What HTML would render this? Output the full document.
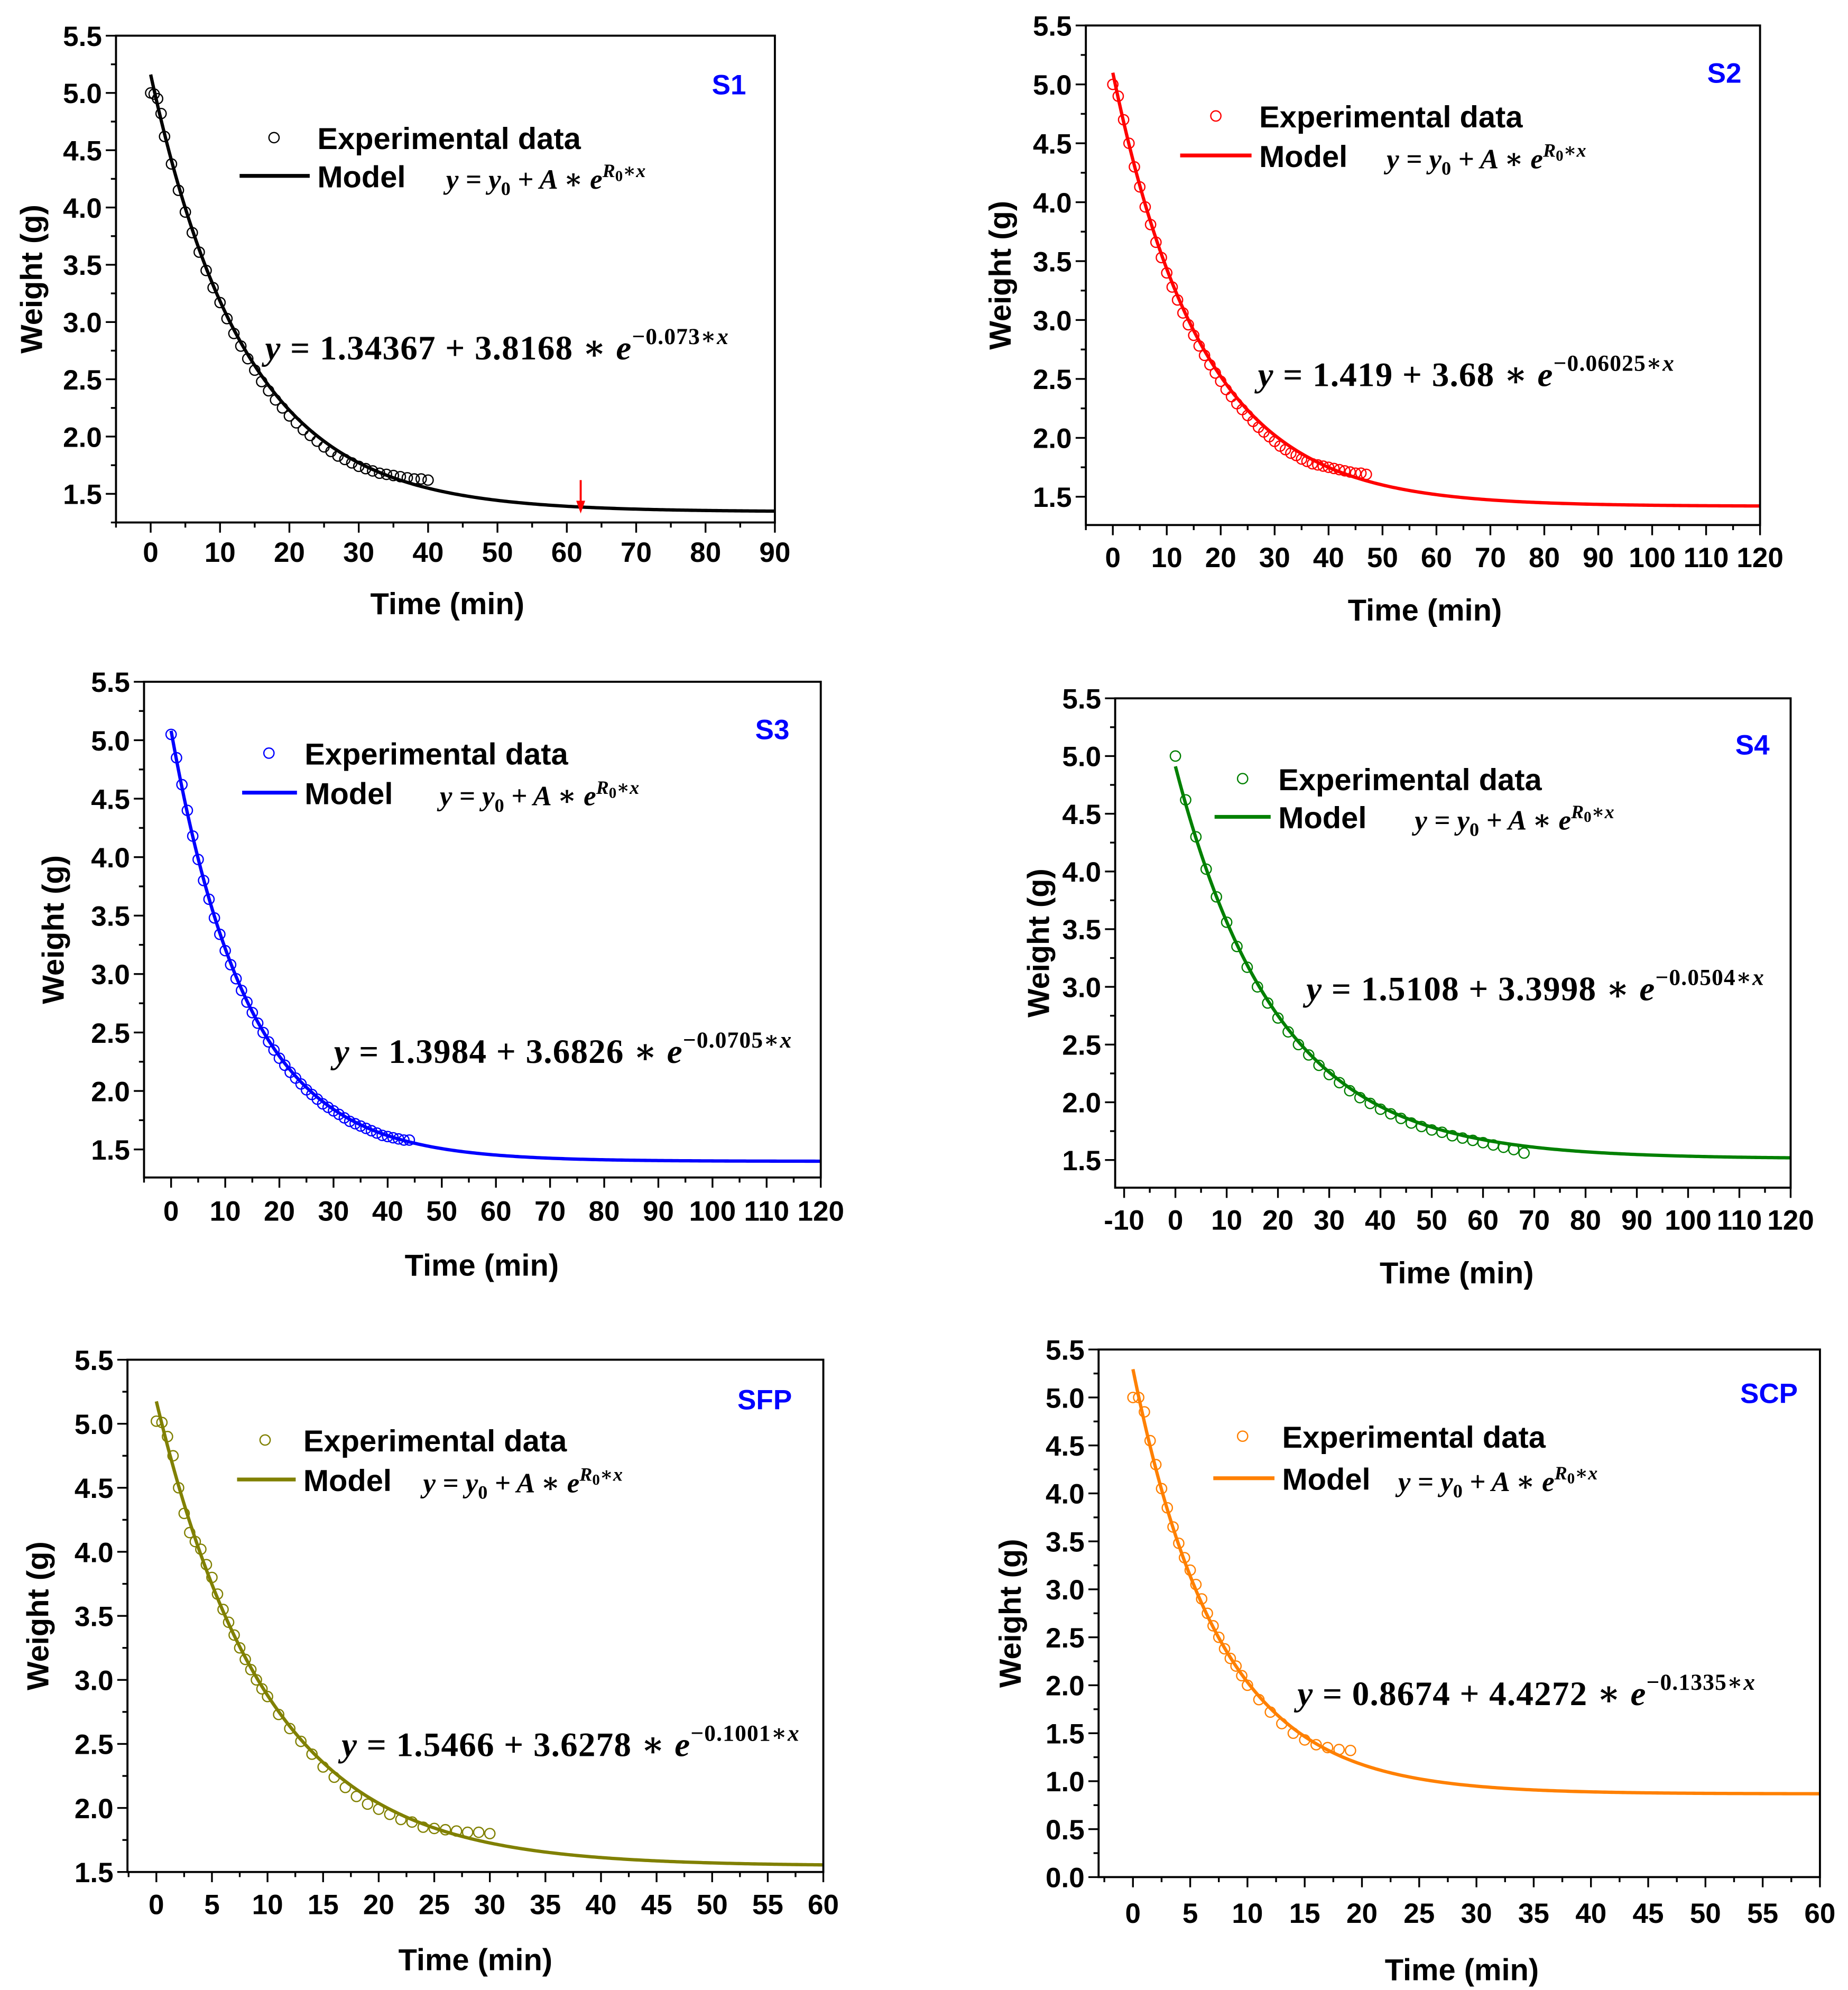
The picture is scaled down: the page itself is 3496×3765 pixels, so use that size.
<!DOCTYPE html>
<html><head><meta charset="utf-8"><style>
html,body{margin:0;padding:0;background:#fff}
svg{display:block}
text{font-family:"Liberation Sans",Arial,sans-serif}
.eq{font-family:"Liberation Serif","DejaVu Serif",serif;font-weight:bold}
.it{font-style:italic}
</style></head><body>
<svg id="c" width="3496" height="3765" viewBox="0 0 1450 1561.6" xmlns="http://www.w3.org/2000/svg"></svg>
<script>
// ---- data arrays ----
const s1X=[0,0.5,1,1.5,2,3,4,5,6,7,8,9,10,11,12,13,14,15,16,17,18,19,20,21,22,23,24,25,26,27,28,29,30,31,32,33,34,35,36,37,38,39,40];
const s1Y=[5.0,4.99,4.95,4.82,4.62,4.38,4.15,3.96,3.78,3.61,3.45,3.3,3.17,3.03,2.9,2.79,2.68,2.58,2.48,2.4,2.32,2.25,2.18,2.12,2.06,2.01,1.96,1.91,1.87,1.83,1.8,1.77,1.74,1.72,1.7,1.68,1.67,1.66,1.65,1.64,1.63,1.63,1.62];
const s2X=[0,1,2,3,4,5,6,7,8,9,10,11,12,13,14,15,16,17,18,19,20,21,22,23,24,25,26,27,28,29,30,31,32,33,34,35,36,37,38,39,40,41,42,43,44,45,46,47];
const s2Y=[5.0,4.9,4.7,4.5,4.3,4.13,3.96,3.81,3.66,3.53,3.4,3.28,3.17,3.06,2.96,2.87,2.78,2.7,2.62,2.55,2.48,2.41,2.35,2.29,2.24,2.19,2.14,2.09,2.05,2.01,1.97,1.93,1.9,1.87,1.85,1.82,1.8,1.78,1.77,1.76,1.75,1.74,1.73,1.72,1.71,1.7,1.7,1.69];
const s3X=[0,1,2,3,4,5,6,7,8,9,10,11,12,13,14,15,16,17,18,19,20,21,22,23,24,25,26,27,28,29,30,31,32,33,34,35,36,37,38,39,40,41,42,43,44];
const s3Y=[5.05,4.85,4.62,4.4,4.18,3.98,3.8,3.64,3.48,3.34,3.2,3.08,2.96,2.86,2.76,2.67,2.58,2.5,2.42,2.35,2.28,2.22,2.16,2.11,2.06,2.01,1.97,1.93,1.89,1.86,1.83,1.8,1.77,1.74,1.72,1.7,1.68,1.66,1.64,1.62,1.61,1.6,1.59,1.58,1.58];
const s4X=[0,2,4,6,8,10,12,14,16,18,20,22,24,26,28,30,32,34,36,38,40,42,44,46,48,50,52,54,56,58,60,62,64,66,68];
const s4Y=[5.0,4.62,4.3,4.02,3.78,3.56,3.35,3.17,3.0,2.86,2.73,2.61,2.5,2.41,2.32,2.24,2.17,2.1,2.04,1.99,1.94,1.9,1.86,1.82,1.79,1.76,1.74,1.71,1.69,1.67,1.65,1.63,1.61,1.59,1.56];
const sfpX=[0,0.5,1,1.5,2,2.5,3,3.5,4,4.5,5,5.5,6,6.5,7,7.5,8,8.5,9,9.5,10,11,12,13,14,15,16,17,18,19,20,21,22,23,24,25,26,27,28,29,30];
const sfpY=[5.02,5.01,4.9,4.75,4.5,4.3,4.15,4.08,4.02,3.9,3.8,3.67,3.55,3.45,3.35,3.25,3.16,3.08,3.0,2.93,2.87,2.73,2.62,2.52,2.42,2.32,2.24,2.16,2.09,2.03,1.99,1.95,1.91,1.89,1.85,1.84,1.83,1.82,1.81,1.81,1.8];
const scpX=[0,0.5,1,1.5,2,2.5,3,3.5,4,4.5,5,5.5,6,6.5,7,7.5,8,8.5,9,9.5,10,11,12,13,14,15,16,17,18,19];
const scpY=[5.0,5.0,4.85,4.55,4.3,4.05,3.85,3.65,3.48,3.33,3.2,3.05,2.9,2.75,2.62,2.5,2.38,2.28,2.2,2.1,2.0,1.85,1.72,1.6,1.5,1.43,1.38,1.35,1.33,1.32];
const y0s=[1.34367,1.419,1.3984,1.5108,1.5466,0.8674];
const As=[3.8168,3.68,3.6826,3.3998,3.6278,4.4272];
const Rs=[-0.073,-0.06025,-0.0705,-0.0504,-0.1001,-0.1335];
const eqStr=[["1.34367","3.8168","−0.073"],["1.419","3.68","−0.06025"],["1.3984","3.6826","−0.0705"],["1.5108","3.3998","−0.0504"],["1.5466","3.6278","−0.1001"],["0.8674","4.4272","−0.1335"]];
const names=["S1","S2","S3","S4","SFP","SCP"];

const NS="http://www.w3.org/2000/svg";
const svg=document.getElementById('c');
function mk(tag,attrs,parent){const e=document.createElementNS(NS,tag);for(const k in attrs)e.setAttribute(k,attrs[k]);(parent||svg).appendChild(e);return e;}

const panels=[
 {L:91,R:608,T:28,B:410,x0:-5,x1:90,y0:1.25,y1:5.5,xt:10,xm:5,yt:0.5,ym:0.25,xmaxT:90,ymin:1.5,col:"#000",dx:s1X,dy:s1Y,leg:[215,108,188,243,138,350],lab:[572,66],eq:[208,274],ytx:25,xly:433,xty:474,xtc:351},
 {L:852,R:1381,T:20,B:412,x0:-5,x1:120,y0:1.26,y1:5.5,xt:10,xm:5,yt:0.5,ym:0.25,xmaxT:120,ymin:1.5,col:"#ff0000",dx:s2X,dy:s2Y,leg:[954,91,926,982,122,1088],lab:[1353,57],eq:[987,295],ytx:785,xly:437,xty:479,xtc:1118},
 {L:113,R:644,T:535,B:924,x0:-5,x1:120,y0:1.26,y1:5.5,xt:10,xm:5,yt:0.5,ym:0.25,xmaxT:120,ymin:1.5,col:"#0000ff",dx:s3X,dy:s3Y,leg:[211,591,190,233,622,345],lab:[606,572],eq:[262,826],ytx:42,xly:950,xty:993,xtc:378},
 {L:875,R:1405,T:548,B:932,x0:-11.75,x1:120,y0:1.26,y1:5.5,xt:10,xm:5,yt:0.5,ym:0.25,xmaxT:120,xminT:-10,ymin:1.5,col:"#008000",dx:s4X,dy:s4Y,leg:[975,611,953,997,641,1110],lab:[1375,584],eq:[1025,777],ytx:815,xly:957,xty:999,xtc:1143},
 {L:100,R:646,T:1067,B:1469,x0:-2.6,x1:60,y0:1.5,y1:5.5,xt:5,xm:2.5,yt:0.5,ym:0.25,xmaxT:60,ymin:1.5,col:"#808000",dx:sfpX,dy:sfpY,leg:[208,1130,186,232,1161,332],lab:[600,1098],eq:[268,1370],ytx:30,xly:1494,xty:1538,xtc:373},
 {L:862,R:1428,T:1059,B:1473,x0:-3,x1:60,y0:0,y1:5.5,xt:5,xm:2.5,yt:0.5,ym:0.25,xmaxT:60,ymin:0,col:"#ff8000",dx:scpX,dy:scpY,leg:[975,1127,952,1000,1160,1097],lab:[1388,1093],eq:[1018,1330],ytx:793,xly:1501,xty:1546,xtc:1147}
];

panels.forEach((p,i)=>{
 const g=mk('g',{});
 
 
 const sx=v=>p.L+(v-p.x0)/(p.x1-p.x0)*(p.R-p.L);
 const sy=v=>p.B-(v-p.y0)/(p.y1-p.y0)*(p.B-p.T);
 let d='';
 for(let k=0;k<=300;k++){const x=p.x1*k/300;const y=y0s[i]+As[i]*Math.exp(Rs[i]*x);d+=(k?'L':'M')+sx(x).toFixed(2)+','+sy(y).toFixed(2);}
 const cv=mk('path',{d:d,fill:'none',stroke:p.col,'stroke-width':2.6},g);
 
 
 p.dx.forEach((x,k)=>{
  const c=mk('circle',{cx:sx(x),cy:sy(p.dy[k]),r:4,fill:'none',stroke:p.col,'stroke-width':1},g);
  
  
 });
 const fr=mk('rect',{x:p.L,y:p.T,width:p.R-p.L,height:p.B-p.T,fill:'none',stroke:'#000','stroke-width':1.6},g);
 
 
 const xminT=p.xminT!==undefined?p.xminT:0;
 for(let v=Math.ceil(p.x0/p.xm)*p.xm;v<=p.x1+1e-6;v+=p.xm){
  const major=Math.abs(v/p.xt-Math.round(v/p.xt))<1e-6;
  mk('line',{x1:sx(v),x2:sx(v),y1:p.B,y2:p.B+(major?8:4),stroke:'#000','stroke-width':1.4},g);
  if(major&&v>=xminT-1e-6&&v<=p.xmaxT+1e-6){
   const t=mk('text',{x:sx(v),y:p.xly+8,'text-anchor':'middle','font-size':22,'font-weight':'bold'},g);
   t.textContent=(v<0?'-':'')+Math.abs(Math.round(v));
   
   
  }
 }
 for(let v=Math.ceil(p.y0/p.ym)*p.ym;v<=p.y1+1e-6;v+=p.ym){
  const major=Math.abs(v/p.yt-Math.round(v/p.yt))<1e-6;
  mk('line',{x1:p.L,x2:p.L-(major?8:4),y1:sy(v),y2:sy(v),stroke:'#000','stroke-width':1.4},g);
  if(major&&v>=p.ymin-1e-6){
   const t=mk('text',{x:p.L-11,y:sy(v)+8,'text-anchor':'end','font-size':22,'font-weight':'bold'},g);
   t.textContent=v.toFixed(1);
   
   
  }
 }
 const xt=mk('text',{x:p.xtc,y:p.xty+8,'text-anchor':'middle','font-size':24,'font-weight':'bold'},g);
 xt.textContent='Time (min)';
 
 
 const yc=(p.T+p.B)/2;
 const yt=mk('text',{x:p.ytx+8,y:yc,'text-anchor':'middle','font-size':24,'font-weight':'bold',transform:'rotate(-90 '+(p.ytx+8)+' '+yc+')'},g);
 yt.textContent='Weight (g)';
 
 
 const lb=mk('text',{x:p.lab[0],y:p.lab[1]+8,'text-anchor':'middle','font-size':22,'font-weight':'bold',fill:'#0000ff'},g);
 lb.textContent=names[i];
 
 
 const L=p.leg;
 const lm=mk('circle',{cx:L[0],cy:L[1],r:4,fill:'none',stroke:p.col,'stroke-width':1},g);
 
 
 const l1=mk('text',{x:L[3]+6,y:L[1]+9,'font-size':24,'font-weight':'bold'},g);
 l1.textContent='Experimental data';
 
 
 mk('line',{x1:L[2],x2:L[3],y1:L[4],y2:L[4],stroke:p.col,'stroke-width':3},g);
 const l2=mk('text',{x:L[3]+6,y:L[4]+9,'font-size':24,'font-weight':'bold'},g);
 l2.textContent='Model';
 
 
 const f=mk('text',{x:L[5],y:L[4]+10,'font-size':22,class:'eq it'},g);
 f.innerHTML='y = y<tspan font-size="15" dy="5" font-style="normal">0</tspan><tspan dy="-5"> + A ∗ e</tspan><tspan font-size="15" dy="-9">R</tspan><tspan font-size="12" dy="3" font-style="normal">0</tspan><tspan font-size="15" dy="-3">∗x</tspan>';
 
 
 const e=eqStr[i];
 const eq=mk('text',{x:p.eq[0],y:p.eq[1]+8,'font-size':27,class:'eq','letter-spacing':'0.5'},g);
 eq.innerHTML='<tspan font-style="italic">y</tspan> = '+e[0]+' + '+e[1]+' ∗ <tspan font-style="italic">e</tspan><tspan font-size="18" dy="-12">'+e[2]+'∗<tspan font-style="italic">x</tspan></tspan>';
 
 
 if(i===0){
  const ar=mk('g',{},g);
  
  
  mk('line',{x1:sx(62),x2:sx(62),y1:sy(1.62),y2:sy(1.42),stroke:'#ff0000','stroke-width':1.6},ar);
  mk('path',{d:'M'+(sx(62)-3.5)+','+sy(1.44)+'L'+(sx(62)+3.5)+','+sy(1.44)+'L'+sx(62)+','+(sy(1.44)+10)+'Z',fill:'#ff0000'},ar);
 }
});
</script>
</body></html>
